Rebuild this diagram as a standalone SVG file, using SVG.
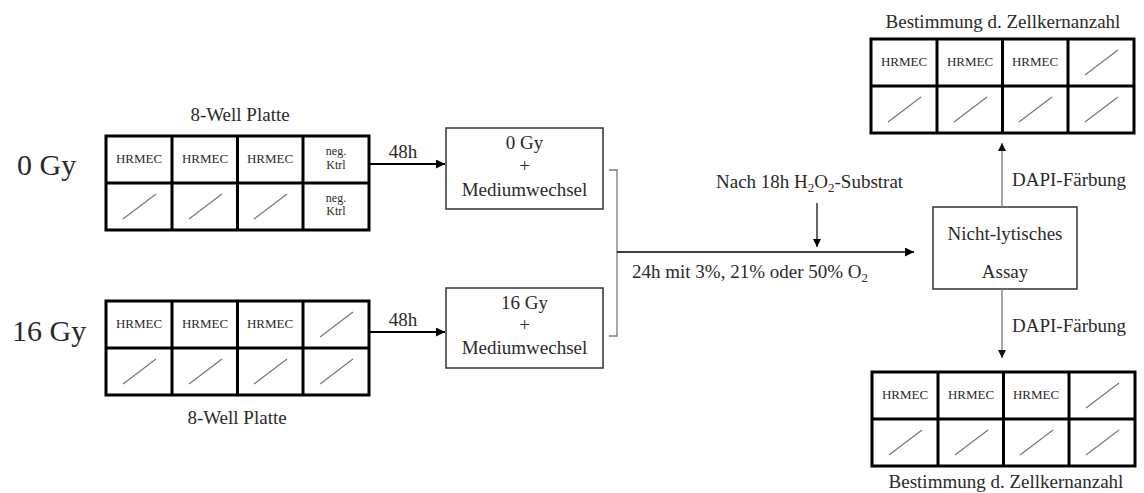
<svg xmlns="http://www.w3.org/2000/svg" width="1144" height="493" viewBox="0 0 1144 493">
<style>
text{font-family:"Liberation Serif","Times New Roman",serif;fill:#2a2a2a}
.big{font-size:30px}
.t{font-size:19px}
.c{font-size:13px;text-anchor:middle}
.s{font-size:12px;text-anchor:middle}
.m{text-anchor:middle}
.pl{fill:#fff;stroke:#000;stroke-width:3}
.dv{stroke:#000;stroke-width:3}
.dg{stroke:#777;stroke-width:1.2}
.box{fill:#fff;stroke:#333;stroke-width:1.5}
.ar{fill:none;stroke:#000;stroke-width:2}
.ar1{fill:none;stroke:#000;stroke-width:1.5}
.ar2{fill:none;stroke:#000;stroke-width:1.2}
.gr{fill:none;stroke:#777;stroke-width:1.3}
</style>
<defs>
<marker id="hb" viewBox="0 0 10 10" refX="10" refY="5" markerWidth="11" markerHeight="9" markerUnits="userSpaceOnUse" orient="auto"><path d="M0,0 L10,5 L0,10 z" fill="#000"/></marker>
<marker id="hs" viewBox="0 0 10 10" refX="10" refY="5" markerWidth="9" markerHeight="8" markerUnits="userSpaceOnUse" orient="auto"><path d="M0,0 L10,5 L0,10 z" fill="#000"/></marker>
<marker id="hg" viewBox="0 0 10 10" refX="10" refY="5" markerWidth="9" markerHeight="8" markerUnits="userSpaceOnUse" orient="auto"><path d="M0,0 L10,5 L0,10 z" fill="#111"/></marker>
<g id="grid">
<rect class="pl" x="0" y="0" width="263" height="94"/>
<line class="dv" x1="0" y1="47" x2="263" y2="47"/>
<line class="dv" x1="66" y1="0" x2="66" y2="94"/>
<line class="dv" x1="131.5" y1="0" x2="131.5" y2="94"/>
<line class="dv" x1="197" y1="0" x2="197" y2="94"/>
</g>
<line id="dgl" class="dg" x1="17" y1="36" x2="50" y2="11"/>
</defs>

<g id="label-0gy"><text class="big" x="17" y="175">0 Gy</text></g>
<g id="label-16gy"><text class="big" x="12" y="341">16 Gy</text></g>

<g id="plate-0gy">
<text class="t m" x="240" y="121">8-Well Platte</text>
<g transform="translate(106,136)">
<use href="#grid"/>
<text class="c" x="33" y="27">HRMEC</text>
<text class="c" x="99" y="27">HRMEC</text>
<text class="c" x="164" y="27">HRMEC</text>
<text class="s" x="230" y="19">neg.</text>
<text class="s" x="230" y="33">Ktrl</text>
<use href="#dgl" x="0" y="47"/>
<use href="#dgl" x="66" y="47"/>
<use href="#dgl" x="131" y="47"/>
<text class="s" x="230" y="66">neg.</text>
<text class="s" x="230" y="79">Ktrl</text>
</g>
</g>

<g id="plate-16gy">
<g transform="translate(106,301)">
<use href="#grid"/>
<text class="c" x="33" y="27">HRMEC</text>
<text class="c" x="99" y="27">HRMEC</text>
<text class="c" x="164" y="27">HRMEC</text>
<use href="#dgl" x="197" y="0"/>
<use href="#dgl" x="0" y="47"/>
<use href="#dgl" x="66" y="47"/>
<use href="#dgl" x="131" y="47"/>
<use href="#dgl" x="197" y="47"/>
</g>
<text class="t m" x="237" y="424">8-Well Platte</text>
</g>

<g id="box-0gy">
<rect class="box" x="446" y="128" width="157" height="81"/>
<text class="t m" x="524.5" y="149">0 Gy</text>
<text class="t m" x="524.5" y="172">+</text>
<text class="t m" x="524.5" y="196">Mediumwechsel</text>
</g>

<g id="box-16gy">
<rect class="box" x="446" y="288" width="157" height="80"/>
<text class="t m" x="524.5" y="309">16 Gy</text>
<text class="t m" x="524.5" y="331">+</text>
<text class="t m" x="524.5" y="354">Mediumwechsel</text>
</g>

<g id="box-assay">
<rect class="box" x="933" y="207" width="144" height="82"/>
<text class="t m" x="1005" y="240">Nicht-lytisches</text>
<text class="t m" x="1005" y="278">Assay</text>
</g>

<g id="plate-top">
<text class="t m" x="1003" y="28">Bestimmung d. Zellkernanzahl</text>
<g transform="translate(871,39)">
<use href="#grid"/>
<text class="c" x="33" y="27">HRMEC</text>
<text class="c" x="99" y="27">HRMEC</text>
<text class="c" x="164" y="27">HRMEC</text>
<use href="#dgl" x="197" y="0"/>
<use href="#dgl" x="0" y="47"/>
<use href="#dgl" x="66" y="47"/>
<use href="#dgl" x="131" y="47"/>
<use href="#dgl" x="197" y="47"/>
</g>
</g>

<g id="plate-bottom">
<g transform="translate(872,372)">
<use href="#grid"/>
<text class="c" x="33" y="27">HRMEC</text>
<text class="c" x="99" y="27">HRMEC</text>
<text class="c" x="164" y="27">HRMEC</text>
<use href="#dgl" x="197" y="0"/>
<use href="#dgl" x="0" y="47"/>
<use href="#dgl" x="66" y="47"/>
<use href="#dgl" x="131" y="47"/>
<use href="#dgl" x="197" y="47"/>
</g>
<text class="t m" x="1006" y="488">Bestimmung d. Zellkernanzahl</text>
</g>

<g id="connectors">
<line class="ar" x1="369" y1="164" x2="445" y2="164" marker-end="url(#hb)"/>
<text class="t m" x="403" y="158">48h</text>
<line class="ar" x1="368" y1="332" x2="445" y2="332" marker-end="url(#hb)"/>
<text class="t m" x="403" y="326">48h</text>
<path class="gr" d="M609,170 H617 V336 H609"/>
<line class="ar1" x1="617" y1="252" x2="914" y2="252" marker-end="url(#hb)"/>
<text class="t" x="632" y="278">24h mit 3%, 21% oder 50% O<tspan font-size="13" dy="4">2</tspan></text>
<text class="t" x="716" y="188">Nach 18h H<tspan font-size="13" dy="4">2</tspan><tspan dy="-4">O</tspan><tspan font-size="13" dy="4">2</tspan><tspan dy="-4">-Substrat</tspan></text>
<line class="ar2" x1="817" y1="203" x2="817" y2="247" marker-end="url(#hs)"/>
<line class="gr" x1="1002" y1="207" x2="1002" y2="143" marker-end="url(#hg)"/>
<text class="t" x="1012" y="186">DAPI-Färbung</text>
<line class="gr" x1="1002" y1="289" x2="1002" y2="358" marker-end="url(#hg)"/>
<text class="t" x="1012" y="332">DAPI-Färbung</text>
</g>
</svg>
